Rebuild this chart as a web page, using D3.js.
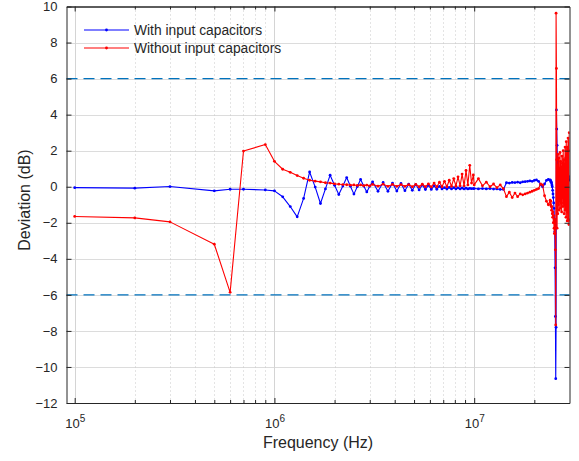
<!DOCTYPE html>
<html>
<head>
<meta charset="utf-8">
<script src="https://cdn.jsdelivr.net/npm/d3@7"></script>
<style>
body { margin: 0; background: #fff; }
svg text { font-family: "Liberation Sans", Arial, Helvetica, sans-serif; fill: #262626; }
</style>
</head>
<body>
<svg id="chart" width="579" height="461"></svg>
<script>
// frequency points in MHz
var freqMHz = [
	0.1, 0.2, 0.3, 0.5, 0.6, 0.7, 0.9, 1.0, 1.1, 1.2,
	1.3, 1.4, 1.5, 1.6, 1.7, 1.8, 1.9, 2.0, 2.1, 2.2,
	2.3, 2.4, 2.5, 2.6, 2.7, 2.8, 2.9, 3.0,
	3.1, 3.3, 3.5, 3.7, 3.9, 4.1, 4.3, 4.5, 4.7, 4.9,
	5.1, 5.3, 5.5, 5.7, 5.9, 6.1, 6.3, 6.5, 6.7, 6.9,
	7.1, 7.3, 7.5, 7.7, 7.9, 8.1, 8.3, 8.5, 8.7, 8.9,
	9.1, 9.3, 9.5, 9.7, 9.9,
	10.0, 10.5, 11.0, 11.5, 12.0, 12.5, 13.0, 13.5, 14.0, 14.5,
	15.0, 15.5, 16.0, 16.5, 17.0, 17.5, 18.0, 18.5, 19.0, 19.5,
	20.0, 20.5, 21.0, 21.5, 22.0, 22.5, 23.0, 23.5,
	24.0, 24.1, 24.2, 24.3, 24.4, 24.5, 24.6, 24.7, 24.8, 24.9,
	25.0, 25.1, 25.2, 25.3, 25.4, 25.5, 25.6, 25.7, 25.8, 25.9,
	26.0, 26.1, 26.2, 26.3, 26.4, 26.5, 26.6, 26.7, 26.8, 26.9,
	27.0, 27.1, 27.2, 27.3, 27.4, 27.5, 27.6, 27.7, 27.8, 27.9,
	28.0, 28.1, 28.2, 28.3, 28.4, 28.5, 28.6, 28.7, 28.8, 28.9,
	29.0, 29.1, 29.2, 29.3, 29.4, 29.5, 29.6, 29.7, 29.8, 29.9, 30.0
];

// deviation in dB, with input capacitors
var withCaps = [
	-0.05, -0.08, 0.01, -0.23, -0.14, -0.14, -0.18, -0.23, -0.56, -1.10,
	-1.67, -0.65, 0.82, -0.02, -0.93, -0.12, 0.64, 0.08, -0.43, 0.04,
	0.51, 0.03, -0.41, 0.01, 0.40, 0.04, -0.29, 0.02,
	0.27, -0.25, 0.24, -0.25, 0.20, -0.24, 0.18, -0.22, 0.14, -0.20,
	0.12, -0.18, 0.10, -0.16, 0.08, -0.15, 0.05, -0.14, 0.02, -0.12,
	-0.05, -0.13, -0.04, -0.12, -0.05, -0.12, -0.06, -0.12, -0.07, -0.12,
	-0.08, -0.12, -0.09, -0.11, -0.10,
	-0.10, -0.12, -0.10, -0.12, -0.10, -0.13, -0.12, -0.15, -0.15, 0.22,
	0.20, 0.24, 0.23, 0.25, 0.22, 0.27, 0.28, 0.30, 0.32, 0.30,
	0.35, 0.38, 0.30, 0.10, 0.00, 0.15, 0.35, 0.40,
	0.38, 0.35, 0.30, 0.25, 0.20, 0.10, 0.00, -0.20, -0.40, -0.60,
	-0.90, -1.20, -1.80, -2.50, -4.50, -7.20, -10.65, -7.80, 4.26, 3.20,
	2.30, 1.50, 0.90, 0.60, 0.80, 0.55, 0.75, 0.55, 0.80, 0.60,
	0.75, 0.50, 0.70, 0.55, 0.80, 0.60, 0.75, 0.50, 0.70, 0.60,
	0.78, 0.55, 0.70, 0.50, 0.75, 0.58, 0.72, 0.50, 0.70, 0.55,
	0.75, 0.50, 0.65, 0.45, 0.70, 0.50, 0.60, 0.40, 0.55, 0.35, 0.40
];

// deviation in dB, without input capacitors
var withoutCaps = [
	-1.65, -1.73, -1.95, -3.19, -5.86, 1.98, 2.34, 1.41, 0.97, 0.80,
	0.62, 0.47, 0.36, 0.31, 0.27, 0.22, 0.20, 0.16, 0.14, 0.12,
	0.11, 0.09, 0.10, 0.07, 0.10, 0.06, 0.09, 0.05,
	0.13, 0.03, 0.14, 0.02, 0.13, 0.02, 0.12, 0.02, 0.12, 0.00,
	0.13, 0.00, 0.14, 0.00, 0.16, -0.01, 0.20, 0.00, 0.25, 0.00,
	0.30, 0.00, 0.36, 0.02, 0.45, 0.03, 0.55, 0.05, 0.70, 0.05,
	0.90, 0.10, 1.19, 0.20, 0.65,
	0.10, 0.45, 0.05, 0.25, 0.00, 0.15, -0.05, 0.10, -0.10, -0.55,
	-0.30, -0.60, -0.35, -0.55, -0.40, -0.45, -0.40, -0.35, -0.30, -0.25,
	-0.20, -0.15, -0.10, 0.15, 0.10, -0.50, -0.80, -1.00,
	-0.75, -1.00, -0.80, -1.10, -1.30, -1.10, -1.50, -1.70, -1.40, -2.00,
	-1.60, -2.30, -2.60, -1.80, -2.60, -3.50, -7.67, 9.63, 6.56, 1.50,
	-2.30, 1.20, -1.50, 1.80, -1.00, 1.60, -1.30, 1.00, -0.80, 1.90,
	-1.20, 1.40, -0.90, 1.10, -1.40, 1.70, -0.60, 1.30, -1.10, 2.00,
	-0.90, 1.50, -1.50, 1.20, -1.00, 2.20, -1.30, 1.60, -1.70, 2.50,
	-1.20, 1.80, -1.90, 2.20, -1.40, 2.70, -1.80, 2.00, -2.10, 3.00, -1.90
];

var seriesNames = ['With input capacitors', 'Without input capacitors'];
var yTicks = [-12, -10, -8, -6, -4, -2, 0, 2, 4, 6, 8, 10];
var xMajor = [1e5, 1e6, 1e7];
var xMinor = [2e5, 3e5, 4e5, 5e5, 6e5, 7e5, 8e5, 9e5,
	2e6, 3e6, 4e6, 5e6, 6e6, 7e6, 8e6, 9e6, 2e7];
var limitLines = [6, -6];

var colors = ['#0000ff', '#ff0000'];
var axisColor = '#262626';

var L = 66.5, R = 569.5, T = 6.5, B = 403;

var svg = d3.select('#chart');

var xScale = d3.scaleLog().domain([9.1e4, 3e7]).range([L, R]);
var yScale = d3.scaleLinear().domain([-12, 10]).range([B, T]);

svg.append('defs').append('clipPath').attr('id', 'plotclip')
	.append('rect').attr('x', L).attr('y', T).attr('width', R - L).attr('height', B - T);

// grid
var grid = svg.append('g');
grid.selectAll('line.hg').data(yTicks.slice(1, -1)).enter()
	.append('line')
	.attr('x1', L).attr('x2', R)
	.attr('y1', function(d){return Math.round(yScale(d)) + 0.5})
	.attr('y2', function(d){return Math.round(yScale(d)) + 0.5})
	.attr('stroke', '#dcdcdc').attr('stroke-width', 1);
grid.selectAll('line.vg').data(xMajor).enter()
	.append('line')
	.attr('x1', function(d){return Math.round(xScale(d)) + 0.5})
	.attr('x2', function(d){return Math.round(xScale(d)) + 0.5})
	.attr('y1', T).attr('y2', B)
	.attr('stroke', '#d4d4d4').attr('stroke-width', 1);
grid.selectAll('line.vm').data(xMinor).enter()
	.append('line')
	.attr('x1', function(d){return Math.round(xScale(d)) + 0.5})
	.attr('x2', function(d){return Math.round(xScale(d)) + 0.5})
	.attr('y1', T).attr('y2', B)
	.attr('stroke', '#c8c8c8').attr('stroke-width', 1)
	.attr('stroke-dasharray', '1,3');

// +/- 6 dB limit lines
svg.append('g').selectAll('line').data(limitLines).enter()
	.append('line')
	.attr('x1', L).attr('x2', R)
	.attr('y1', function(d){return yScale(d)})
	.attr('y2', function(d){return yScale(d)})
	.attr('stroke', '#0072bd').attr('stroke-width', 1.3)
	.attr('stroke-dasharray', '11,6');

// series
var series = [withCaps, withoutCaps].map(function(vals, k){
	return {
		name: seriesNames[k],
		color: colors[k],
		points: freqMHz.map(function(f, i){return {f: f * 1e6, v: vals[i]}})
	};
});

var line = d3.line()
	.x(function(d){return xScale(d.f)})
	.y(function(d){return yScale(d.v)});

var plot = svg.append('g').attr('clip-path', 'url(#plotclip)');
series.forEach(function(s){
	var g = plot.append('g');
	g.append('path').datum(s.points)
		.attr('d', line)
		.attr('fill', 'none')
		.attr('stroke', s.color)
		.attr('stroke-width', 1.1)
		.attr('stroke-linejoin', 'round');
	g.selectAll('circle').data(s.points).enter()
		.append('circle')
		.attr('cx', function(d){return xScale(d.f)})
		.attr('cy', function(d){return yScale(d.v)})
		.attr('r', 1.4)
		.attr('fill', s.color);
});

// axes (ticks pointing inward, box all round)
var styleAxis = function(g){
	g.selectAll('path.domain').attr('stroke', axisColor);
	g.selectAll('.tick line').attr('stroke', axisColor);
	g.selectAll('.tick text').attr('fill', axisColor).attr('font-size', 13)
		.attr('font-family', '"Liberation Sans", Arial, sans-serif');
};

svg.append('g').attr('transform', 'translate(' + L + ',0)')
	.call(d3.axisLeft(yScale).tickValues(yTicks).tickSize(-5).tickSizeOuter(0).tickPadding(9))
	.call(styleAxis);
svg.append('g').attr('transform', 'translate(' + R + ',0)')
	.call(d3.axisRight(yScale).tickValues(yTicks).tickSize(-5).tickSizeOuter(0).tickFormat(''))
	.call(styleAxis);

var bottomAxis = svg.append('g').attr('transform', 'translate(0,' + B + ')')
	.call(d3.axisBottom(xScale).tickValues(xMajor).tickSize(-5).tickSizeOuter(0).tickPadding(16))
	.call(styleAxis);
bottomAxis.selectAll('.tick text').each(function(d){
	var t = d3.select(this);
	t.text('');
	t.append('tspan').text('10');
	t.append('tspan').attr('dy', -6).attr('font-size', 10).text(Math.round(Math.log10(d)));
});
svg.append('g').attr('transform', 'translate(0,' + B + ')')
	.call(d3.axisBottom(xScale).tickValues(xMinor).tickSize(-3).tickSizeOuter(0).tickFormat(''))
	.call(styleAxis);
svg.append('g').attr('transform', 'translate(0,' + T + ')')
	.call(d3.axisTop(xScale).tickValues(xMajor).tickSize(-5).tickSizeOuter(0).tickFormat(''))
	.call(styleAxis);
svg.append('g').attr('transform', 'translate(0,' + T + ')')
	.call(d3.axisTop(xScale).tickValues(xMinor).tickSize(-3).tickSizeOuter(0).tickFormat(''))
	.call(styleAxis);

// axis titles
svg.append('text')
	.attr('x', (L + R) / 2).attr('y', 448)
	.attr('text-anchor', 'middle').attr('font-size', 16)
	.text('Frequency (Hz)');
svg.append('text')
	.attr('transform', 'translate(30,200) rotate(-90)')
	.attr('text-anchor', 'middle').attr('font-size', 16)
	.text('Deviation (dB)');

// legend
var legend = svg.append('g');
series.forEach(function(s, i){
	var ly = 30 + i * 18;
	legend.append('line')
		.attr('x1', 84).attr('x2', 129).attr('y1', ly).attr('y2', ly)
		.attr('stroke', s.color).attr('stroke-width', 1.1);
	legend.append('circle')
		.attr('cx', 106.5).attr('cy', ly).attr('r', 1.4).attr('fill', s.color);
	legend.append('text')
		.attr('x', 134).attr('y', ly).attr('dy', '0.35em')
		.attr('font-size', 13.8).attr('fill', '#000')
		.text(s.name);
});
</script>
</body>
</html>
